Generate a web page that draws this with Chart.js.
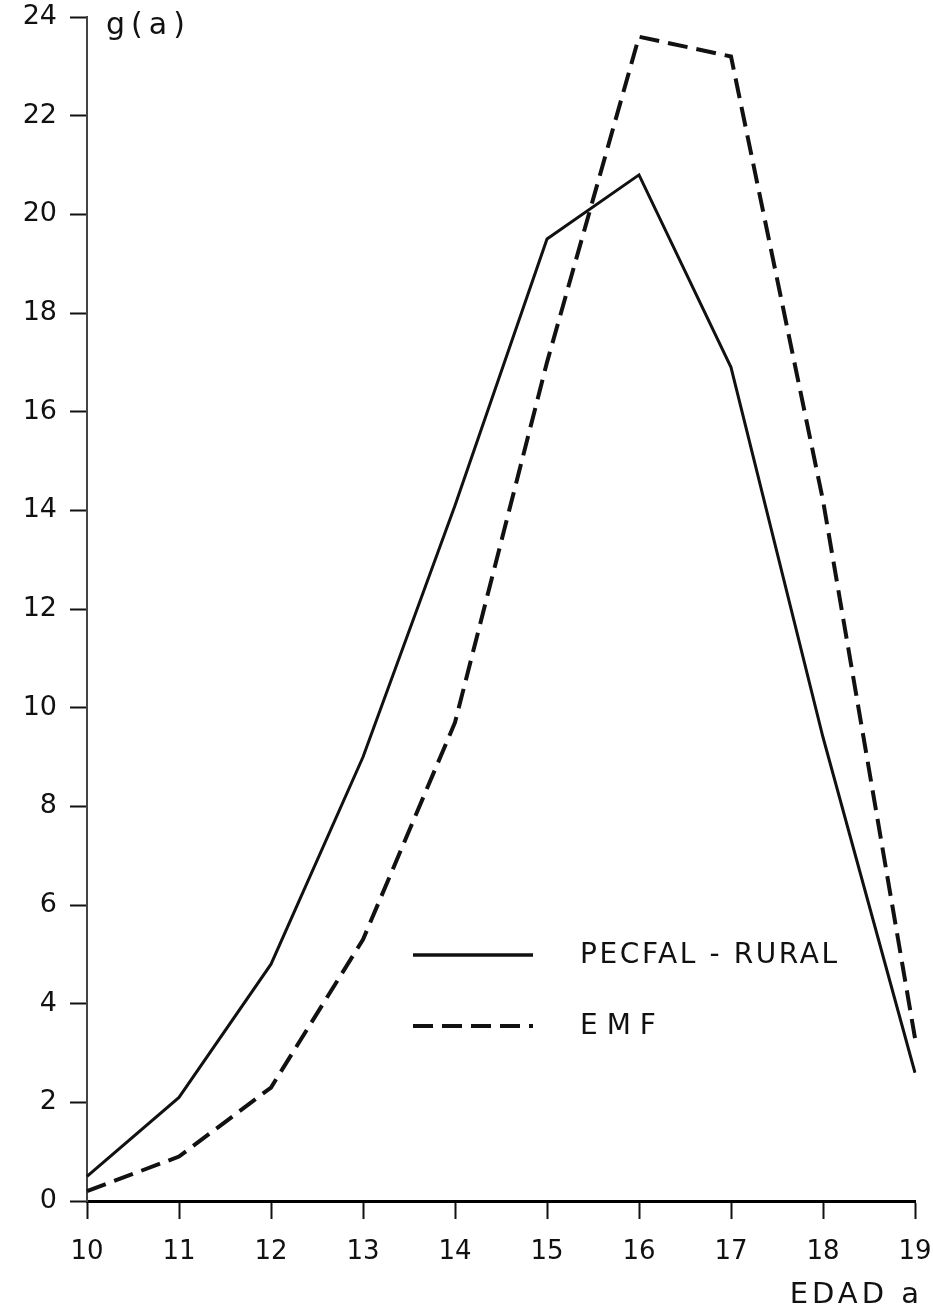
<!DOCTYPE html>
<html lang="es">
<head>
<meta charset="utf-8">
<title>g(a) por edad</title>
<script src="https://cdn.jsdelivr.net/npm/chart.js@4.4.1/dist/chart.umd.min.js"></script>
<style>
  html, body { margin: 0; padding: 0; background: #fff; }
  #wrap { position: relative; width: 933px; height: 1316px; overflow: hidden; }
  #grafico { position: absolute; left: 0; top: 0; }
  .txt { position: absolute; font-family: "DejaVu Sans", sans-serif; color: #111; white-space: nowrap; }
  .muestra { position: absolute; }
</style>
</head>
<body>
<div id="wrap">
  <canvas id="grafico" width="933" height="1316"></canvas>
  <div class="txt" style="left:106px; top:6px; font-size:30px; letter-spacing:6px;">g(a)</div>
  <svg class="muestra" style="left:413px; top:950px;" width="122" height="10">
    <line x1="0" y1="5" x2="120" y2="5" stroke="#111" stroke-width="3.5"/>
  </svg>
  <div class="txt" style="left:580px; top:937px; font-size:28px; letter-spacing:2.6px;">PECFAL - RURAL</div>
  <svg class="muestra" style="left:413px; top:1021px;" width="122" height="10">
    <line x1="0" y1="5" x2="120" y2="5" stroke="#111" stroke-width="4" stroke-dasharray="20 9"/>
  </svg>
  <div class="txt" style="left:580px; top:1008px; font-size:28px; letter-spacing:9px;">EMF</div>
  <div class="txt" style="right:10px; top:1276px; font-size:29px; letter-spacing:4px;">EDAD a</div>
</div>
<script>
  // edades (eje x) y valores de g(a) por serie
  const edades = ['10', '11', '12', '13', '14', '15', '16', '17', '18', '19'];
  const pecfalRural = [0.5, 2.1, 4.8, 9.0, 14.1, 19.5, 20.8, 16.9, 9.4, 2.6];
  const emf = [0.2, 0.9, 2.3, 5.3, 9.7, 17.0, 23.6, 23.2, 14.2, 3.3];
  const yMin = 0;
  const yMax = 24;
  const yPaso = 2;

  const tinta = '#111';
  const fuente = 'DejaVu Sans, sans-serif';

  new Chart(document.getElementById('grafico'), {
    type: 'line',
    data: {
      labels: edades,
      datasets: [
        {
          label: 'PECFAL - RURAL',
          data: pecfalRural,
          borderColor: tinta,
          borderWidth: 3,
          pointRadius: 0,
          tension: 0,
          fill: false,
        },
        {
          label: 'EMF',
          data: emf,
          borderColor: tinta,
          borderWidth: 4,
          borderDash: [20, 9],
          pointRadius: 0,
          tension: 0,
          fill: false,
        },
      ],
    },
    options: {
      responsive: false,
      animation: false,
      devicePixelRatio: 1,
      layout: { padding: { top: 17, right: 18, left: 0, bottom: 0 } },
      plugins: {
        legend: { display: false },
        tooltip: { enabled: false },
      },
      scales: {
        x: {
          type: 'category',
          offset: false,
          afterFit: (s) => {
            s.height = 115;
            s.paddingLeft = 0;
            s.paddingRight = 0;
          },
          grid: {
            drawOnChartArea: false,
            drawTicks: true,
            tickLength: 18,
            tickColor: tinta,
            tickWidth: 2,
          },
          border: { display: true, color: '#000', width: 3 },
          ticks: {
            color: tinta,
            padding: 18,
            font: { family: fuente, size: 26 },
            maxRotation: 0,
            autoSkip: false,
          },
        },
        y: {
          min: yMin,
          max: yMax,
          afterFit: (s) => {
            s.width = 87;
            s.paddingTop = 0;
            s.paddingBottom = 0;
          },
          grid: {
            drawOnChartArea: false,
            drawTicks: true,
            tickLength: 17,
            tickColor: tinta,
            tickWidth: 2,
          },
          border: { display: true, color: '#444', width: 2, dash: [16, 4] },
          ticks: {
            stepSize: yPaso,
            color: tinta,
            padding: 13,
            font: { family: fuente, size: 27 },
          },
        },
      },
    },
  });
</script>
</body>
</html>
